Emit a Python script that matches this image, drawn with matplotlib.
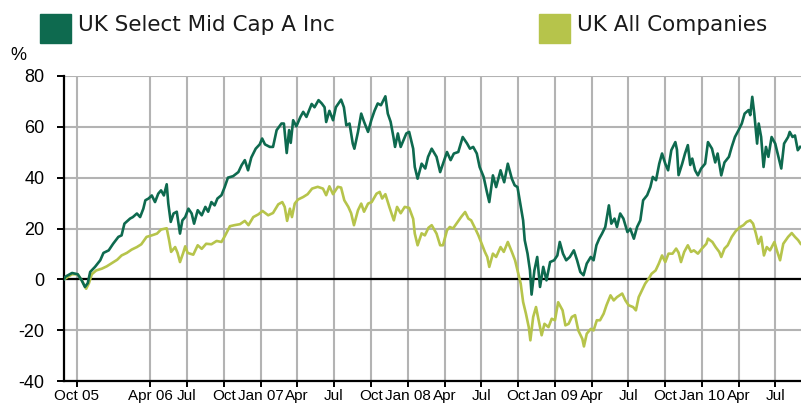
import matplotlib
matplotlib.use("Agg")
import matplotlib.pyplot as plt
import matplotlib.patches as mpatches
import pandas as pd

# ── Data (% cumulative return) ──────────────────────────────────────────────
fund_name = "UK Select Mid Cap A Inc"
sector_name = "UK All Companies"

fund_dates = [
    "2005-08-30", "2005-09-02", "2005-09-19", "2005-10-03", "2005-10-13", "2005-10-21",
    "2005-10-28", "2005-11-03", "2005-11-15", "2005-11-28", "2005-12-06", "2005-12-19",
    "2005-12-30", "2006-01-12", "2006-01-20", "2006-01-27", "2006-02-10", "2006-02-17",
    "2006-02-27", "2006-03-07", "2006-03-15", "2006-03-20", "2006-03-28", "2006-04-05",
    "2006-04-13", "2006-04-21", "2006-04-28", "2006-05-05", "2006-05-12", "2006-05-16",
    "2006-05-22", "2006-05-29", "2006-06-06", "2006-06-14", "2006-06-20", "2006-06-27",
    "2006-07-05", "2006-07-13", "2006-07-19", "2006-07-28", "2006-08-07", "2006-08-16",
    "2006-08-23", "2006-08-31", "2006-09-08", "2006-09-15", "2006-09-25", "2006-10-03",
    "2006-10-11", "2006-10-24", "2006-11-06", "2006-11-14", "2006-11-22", "2006-11-30",
    "2006-12-08", "2006-12-19", "2006-12-29", "2007-01-04", "2007-01-11", "2007-01-23",
    "2007-01-31", "2007-02-09", "2007-02-21", "2007-02-27", "2007-03-06", "2007-03-12",
    "2007-03-16", "2007-03-22", "2007-03-30", "2007-04-09", "2007-04-16", "2007-04-24",
    "2007-05-07", "2007-05-14", "2007-05-24", "2007-06-01", "2007-06-08", "2007-06-12",
    "2007-06-20", "2007-06-29", "2007-07-06", "2007-07-19", "2007-07-26", "2007-08-01",
    "2007-08-09", "2007-08-17", "2007-08-21", "2007-08-30", "2007-09-07", "2007-09-14",
    "2007-09-24", "2007-10-02", "2007-10-10", "2007-10-18", "2007-10-26", "2007-11-06",
    "2007-11-12", "2007-11-19", "2007-11-26", "2007-11-30", "2007-12-07", "2007-12-14",
    "2007-12-28", "2008-01-04", "2008-01-14", "2008-01-18", "2008-01-25", "2008-02-04",
    "2008-02-13", "2008-02-20", "2008-02-29", "2008-03-12", "2008-03-21", "2008-03-31",
    "2008-04-07", "2008-04-16", "2008-04-24", "2008-05-05", "2008-05-16", "2008-05-27",
    "2008-06-03", "2008-06-11", "2008-06-20", "2008-06-27", "2008-07-07", "2008-07-15",
    "2008-07-21", "2008-07-30", "2008-08-07", "2008-08-18", "2008-08-27", "2008-09-05",
    "2008-09-15", "2008-09-22", "2008-09-29", "2008-10-06", "2008-10-13", "2008-10-17",
    "2008-10-24", "2008-10-30", "2008-11-03", "2008-11-10", "2008-11-17", "2008-11-24",
    "2008-12-02", "2008-12-10", "2008-12-19", "2008-12-29", "2009-01-06", "2009-01-12",
    "2009-01-20", "2009-01-28", "2009-02-06", "2009-02-16", "2009-02-24", "2009-03-04",
    "2009-03-12", "2009-03-20", "2009-03-30", "2009-04-06", "2009-04-13", "2009-04-20",
    "2009-04-27", "2009-05-05", "2009-05-14", "2009-05-20", "2009-05-28", "2009-06-03",
    "2009-06-11", "2009-06-19", "2009-06-29", "2009-07-06", "2009-07-15", "2009-07-23",
    "2009-07-31", "2009-08-07", "2009-08-17", "2009-08-25", "2009-08-31", "2009-09-08",
    "2009-09-16", "2009-09-23", "2009-10-01", "2009-10-08", "2009-10-16", "2009-10-26",
    "2009-10-30", "2009-11-03", "2009-11-12", "2009-11-19", "2009-11-26", "2009-12-02",
    "2009-12-07", "2009-12-14", "2009-12-21", "2009-12-29", "2010-01-08", "2010-01-15",
    "2010-01-25", "2010-02-02", "2010-02-08", "2010-02-17", "2010-02-25", "2010-03-08",
    "2010-03-15", "2010-03-23", "2010-04-01", "2010-04-09", "2010-04-16", "2010-04-26",
    "2010-04-30", "2010-05-05", "2010-05-10", "2010-05-17", "2010-05-21", "2010-05-27",
    "2010-06-02", "2010-06-08", "2010-06-14", "2010-06-22", "2010-07-01", "2010-07-09",
    "2010-07-16", "2010-07-23", "2010-08-02", "2010-08-06", "2010-08-13", "2010-08-19",
    "2010-08-26", "2010-09-01",
]
fund_values = [
    0.0, 1.0, 2.5, 2.0, -0.4, -3.0,
    -1.5, 2.9, 4.9, 7.5, 10.4, 11.4,
    14.0, 16.7, 17.3, 21.9, 23.9, 24.5,
    25.9, 24.5, 27.8, 31.1, 31.8, 33.0,
    30.4, 33.7, 35.0, 33.0, 37.4, 29.8,
    22.6, 25.9, 26.6, 18.0, 23.2, 24.5,
    27.8, 25.9, 21.9, 27.2, 25.2, 28.5,
    26.6, 30.4, 29.1, 31.8, 33.1, 36.3,
    40.0, 40.6, 42.2, 44.9, 46.9, 42.9,
    47.9, 51.4, 53.1, 55.4, 53.1, 52.1,
    52.1, 58.7, 61.3, 61.3, 49.7, 58.7,
    53.7, 62.6, 60.2, 63.9, 65.9, 63.9,
    69.0, 67.7, 70.5, 69.2, 67.7, 61.9,
    66.3, 62.6, 67.7, 70.7, 67.7, 60.6,
    61.3, 53.4, 51.4, 58.0, 65.2, 62.0,
    58.0, 62.6, 66.3, 69.2, 68.5, 72.0,
    65.2, 62.0, 56.0, 52.1, 57.4, 52.1,
    57.4, 58.0, 51.4, 44.2, 39.6, 45.5,
    43.6, 48.2, 51.4, 48.2, 42.2, 46.9,
    50.1, 46.9, 49.5, 50.1, 56.0, 53.4,
    51.4, 52.1, 49.5, 44.2, 40.3, 34.4,
    30.4, 40.9, 36.3, 42.9, 38.2, 45.5,
    39.6, 37.0, 36.3, 29.8, 23.2, 15.4,
    10.1, 3.5, -6.0, 3.5, 8.8, -3.0,
    4.9, -0.4, 6.8, 7.5, 9.4, 14.7,
    10.1, 7.5, 8.8, 11.4, 7.5, 2.9,
    1.6, 6.2, 8.8, 7.5, 13.4, 16.0,
    18.0, 20.6, 29.1, 21.9, 23.9, 20.6,
    25.9, 23.9, 18.6, 19.9, 16.0, 20.6,
    23.2, 31.1, 33.1, 36.3, 40.3, 39.0,
    45.5, 49.5, 45.5, 42.9, 50.8, 54.0,
    51.0, 41.0, 45.5, 49.5, 52.8, 45.0,
    47.5, 42.9, 40.9, 43.6, 45.5, 54.0,
    51.4, 46.0, 49.5, 40.9, 46.0, 48.2,
    52.1, 56.0, 58.7, 61.3, 65.2, 66.6,
    64.6, 71.8, 65.2, 53.4, 61.3, 56.0,
    44.2, 52.1, 48.2, 56.0, 53.4, 48.2,
    43.6, 53.4, 56.0, 58.0, 56.0, 56.6,
    50.8, 52.1,
]

sector_dates = [
    "2005-08-30", "2005-09-19", "2005-10-03", "2005-10-13", "2005-10-24", "2005-10-31",
    "2005-11-07", "2005-11-18", "2005-12-02", "2005-12-14", "2005-12-27", "2006-01-09",
    "2006-01-20", "2006-02-02", "2006-02-14", "2006-02-27", "2006-03-10", "2006-03-23",
    "2006-04-05", "2006-04-18", "2006-04-28", "2006-05-12", "2006-05-18", "2006-05-23",
    "2006-06-02", "2006-06-08", "2006-06-14", "2006-06-22", "2006-06-27", "2006-07-03",
    "2006-07-17", "2006-07-28", "2006-08-07", "2006-08-18", "2006-08-31", "2006-09-13",
    "2006-09-25", "2006-10-03", "2006-10-16", "2006-10-27", "2006-11-10", "2006-11-22",
    "2006-12-01", "2006-12-13", "2006-12-26", "2007-01-05", "2007-01-19", "2007-01-31",
    "2007-02-13", "2007-02-23", "2007-03-01", "2007-03-07", "2007-03-14", "2007-03-19",
    "2007-03-26", "2007-04-03", "2007-04-16", "2007-04-27", "2007-05-08", "2007-05-22",
    "2007-06-04", "2007-06-12", "2007-06-20", "2007-06-29", "2007-07-11", "2007-07-19",
    "2007-07-27", "2007-08-06", "2007-08-13", "2007-08-20", "2007-08-30", "2007-09-07",
    "2007-09-14", "2007-09-24", "2007-10-03", "2007-10-15", "2007-10-23", "2007-10-29",
    "2007-11-06", "2007-11-16", "2007-11-27", "2007-12-05", "2007-12-14", "2007-12-24",
    "2008-01-04", "2008-01-14", "2008-01-18", "2008-01-25", "2008-02-04", "2008-02-12",
    "2008-02-21", "2008-02-29", "2008-03-12", "2008-03-21", "2008-03-28", "2008-04-07",
    "2008-04-14", "2008-04-22", "2008-05-01", "2008-05-12", "2008-05-22", "2008-05-30",
    "2008-06-06", "2008-06-16", "2008-06-24", "2008-07-02", "2008-07-10", "2008-07-16",
    "2008-07-21", "2008-07-30", "2008-08-07", "2008-08-18", "2008-08-26", "2008-09-05",
    "2008-09-15", "2008-09-23", "2008-10-01", "2008-10-07", "2008-10-13", "2008-10-20",
    "2008-10-27", "2008-10-31", "2008-11-07", "2008-11-14", "2008-11-19", "2008-11-28",
    "2008-12-05", "2008-12-15", "2008-12-23", "2008-12-31", "2009-01-08", "2009-01-19",
    "2009-01-26", "2009-02-03", "2009-02-11", "2009-02-19", "2009-02-27", "2009-03-09",
    "2009-03-13", "2009-03-20", "2009-03-30", "2009-04-06", "2009-04-14", "2009-04-22",
    "2009-05-01", "2009-05-08", "2009-05-18", "2009-05-26", "2009-06-03", "2009-06-16",
    "2009-06-24", "2009-07-02", "2009-07-13", "2009-07-20", "2009-07-27", "2009-08-04",
    "2009-08-12", "2009-08-21", "2009-08-28", "2009-09-07", "2009-09-15", "2009-09-23",
    "2009-10-01", "2009-10-09", "2009-10-19", "2009-10-28", "2009-11-03", "2009-11-09",
    "2009-11-17", "2009-11-26", "2009-12-04", "2009-12-11", "2009-12-21", "2009-12-31",
    "2010-01-11", "2010-01-15", "2010-01-26", "2010-02-03", "2010-02-12", "2010-02-17",
    "2010-02-25", "2010-03-05", "2010-03-15", "2010-03-25", "2010-04-05", "2010-04-13",
    "2010-04-21", "2010-04-30", "2010-05-07", "2010-05-14", "2010-05-20", "2010-05-27",
    "2010-06-03", "2010-06-10", "2010-06-18", "2010-06-29", "2010-07-05", "2010-07-13",
    "2010-07-21", "2010-08-02", "2010-08-11", "2010-08-19", "2010-08-27", "2010-09-02",
]
sector_values = [
    0.0, 2.0, 2.0, -0.4, -3.7, -1.5,
    2.0, 3.5, 4.2, 5.1, 6.4, 7.7,
    9.4, 10.4, 11.7, 12.7, 13.8, 16.7,
    17.3, 18.0, 19.6, 20.1, 15.4, 10.8,
    12.7, 10.4, 6.8, 10.4, 13.0, 10.4,
    9.7, 13.4, 12.0, 14.0, 13.8, 15.1,
    14.7, 16.9, 20.9, 21.3, 21.7, 23.0,
    21.3, 24.5, 25.6, 26.9, 25.2, 26.1,
    29.5, 30.4, 28.5, 23.0, 27.8, 24.5,
    29.8, 31.4, 32.4, 33.5, 35.7, 36.4,
    35.7, 33.1, 36.6, 33.5, 36.4, 36.1,
    31.1, 28.5, 26.0, 21.3, 27.2, 29.8,
    26.6, 29.8, 30.4, 33.7, 34.4, 31.8,
    33.5, 28.4, 23.2, 28.5, 26.0, 28.5,
    28.1, 23.8, 18.0, 13.4, 18.1, 17.3,
    20.3, 21.3, 18.0, 13.4, 13.4, 19.3,
    20.6, 20.0, 22.0, 24.5, 26.5, 23.9,
    23.2, 20.0, 17.3, 14.0, 10.8, 8.8,
    4.9, 10.1, 8.8, 12.7, 10.8, 14.7,
    10.8, 7.5, 2.2, -1.7, -8.9, -13.5,
    -18.8, -24.0, -14.8, -10.9, -14.8, -22.0,
    -17.5, -18.8, -15.5, -16.1, -9.0, -12.2,
    -18.1, -17.5, -14.8, -14.1, -20.1, -23.4,
    -26.4, -21.4, -19.5, -20.1, -16.1, -16.1,
    -13.5, -10.2, -6.3, -8.3, -7.0, -5.6,
    -8.3, -10.2, -10.9, -12.2, -7.0, -4.3,
    -1.7, 0.3, 2.2, 3.5, 6.2, 9.4,
    6.8, 10.1, 10.1, 12.1, 10.5, 6.8,
    10.8, 13.4, 10.8, 11.4, 10.1, 12.1,
    14.0, 16.0, 14.7, 12.7, 10.8, 8.8,
    12.1, 13.4, 16.7, 19.0, 20.6, 21.3,
    22.6, 23.2, 21.9, 18.0, 14.0, 16.7,
    9.4, 12.7, 11.4, 14.7, 11.4, 7.5,
    14.0, 16.7, 18.2, 16.7, 15.4, 14.0,
]

tick_dates = [
    "2005-10-01", "2006-04-01", "2006-07-01", "2006-10-01", "2007-01-01", "2007-04-01",
    "2007-07-01", "2007-10-01", "2008-01-01", "2008-04-01", "2008-07-01", "2008-10-01",
    "2009-01-01", "2009-04-01", "2009-07-01", "2009-10-01", "2010-01-01", "2010-04-01",
    "2010-07-01",
]
tick_labels = [
    "Oct 05", "Apr 06", "Jul", "Oct", "Jan 07", "Apr",
    "Jul", "Oct", "Jan 08", "Apr", "Jul", "Oct",
    "Jan 09", "Apr", "Jul", "Oct", "Jan 10", "Apr",
    "Jul",
]
y_ticks = [-40, -20, 0, 20, 40, 60, 80]

FUND_COLOR = "#0e6a4f"
SECTOR_COLOR = "#b6c44b"
GRID_COLOR = "#b3b3b3"

plt.rcParams["font.family"] = ["Liberation Sans", "DejaVu Sans"]

fig = plt.figure(figsize=(8.01, 4.05), dpi=100)
ax = fig.add_axes([64 / 801, 24 / 405, 1 - 64 / 801, 305 / 405])

ax.plot(pd.to_datetime(sector_dates), sector_values, color=SECTOR_COLOR, linewidth=1.9, zorder=3)
ax.plot(pd.to_datetime(fund_dates), fund_values, color=FUND_COLOR, linewidth=1.9, zorder=4)
ax.axhline(0, color="black", linewidth=1.6, zorder=2)

ax.set_xlim(pd.Timestamp("2005-08-30"), pd.Timestamp("2010-09-03"))
ax.set_ylim(-40, 80)
ax.set_xticks(pd.to_datetime(tick_dates))
ax.set_xticklabels(tick_labels, fontsize=11)
ax.set_yticks(y_ticks)
ax.set_yticklabels([str(v) for v in y_ticks], fontsize=13)

ax.grid(True, color=GRID_COLOR, linewidth=1.5, zorder=1)
ax.set_axisbelow(True)
for side in ("top", "right"):
    ax.spines[side].set_visible(False)
for side in ("left", "bottom"):
    ax.spines[side].set_linewidth(1.6)
    ax.spines[side].set_color("black")
ax.tick_params(axis="y", direction="out", length=5, width=1.4, pad=9)
ax.tick_params(axis="x", direction="out", length=4, width=1.4, pad=2)

fig.text(18 / 801, 1 - 55 / 405, "%", fontsize=13, ha="center", va="center")

# legend drawn as boxes + labels across the top
for x0, color, name in [(40, FUND_COLOR, fund_name), (539, SECTOR_COLOR, sector_name)]:
    fig.patches.append(mpatches.Rectangle((x0 / 801, 1 - 43 / 405), 31 / 801, 29 / 405,
                                          transform=fig.transFigure, color=color))
    fig.text((x0 + 38) / 801, 1 - 25 / 405, name, fontsize=15.5, family="DejaVu Sans",
             ha="left", va="center", color="#1a1a1a")

fig.savefig("out.png", dpi=100)
